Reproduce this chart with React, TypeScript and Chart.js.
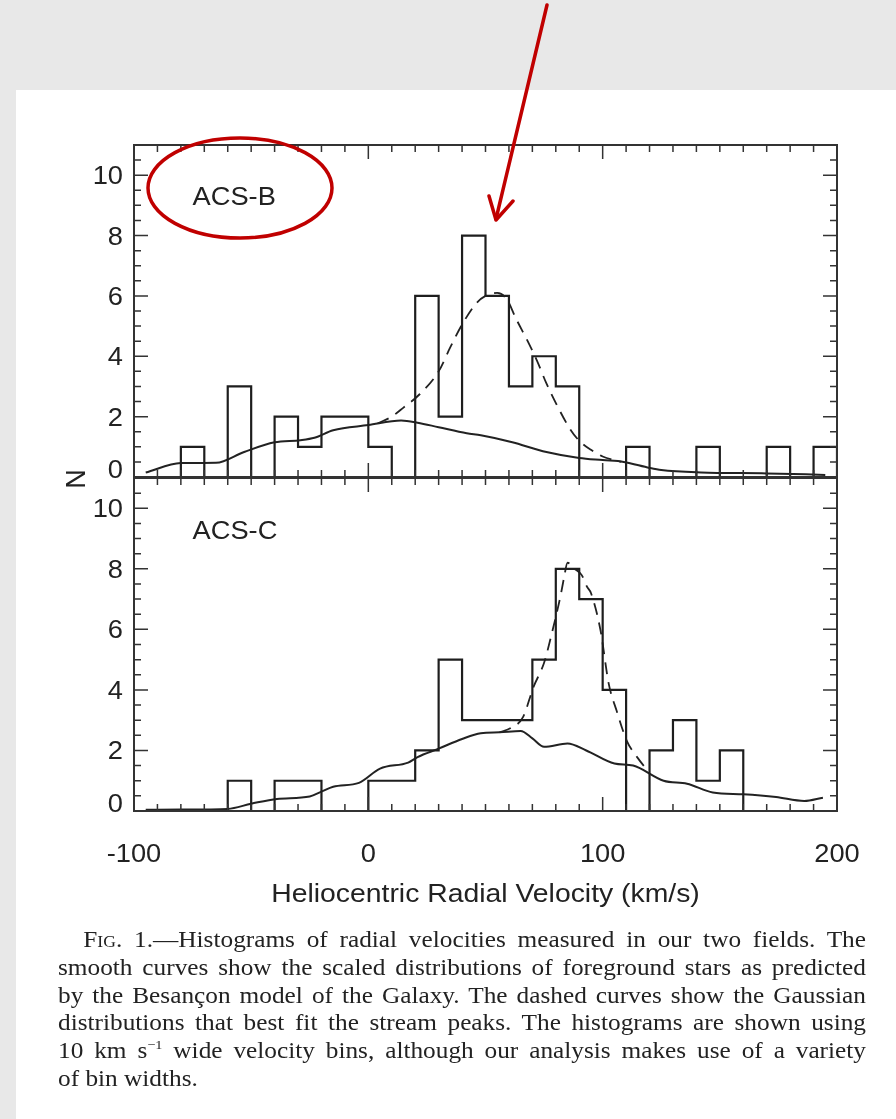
import React, { useEffect, useRef } from "react";
import { Chart, registerables } from "chart.js";

Chart.register(...registerables);

// ---------- data ----------
const binEdges = [-100, -90, -80, -70, -60, -50, -40, -30, -20, -10, 0, 10, 20, 30, 40, 50, 60, 70, 80, 90, 100, 110, 120, 130, 140, 150, 160, 170, 180, 190, 200];
const countsACSB = [0, 0, 1, 0, 3, 0, 2, 1, 2, 2, 1, 0, 6, 2, 8, 6, 3, 4, 3, 0, 0, 1, 0, 0, 1, 0, 0, 1, 0, 1];
const countsACSC = [0, 0, 0, 0, 1, 0, 1, 1, 0, 0, 1, 1, 2, 5, 3, 3, 3, 5, 8, 7, 4, 0, 2, 3, 1, 2, 0, 0, 0, 0];

const modelBVel = [-95, -80, -65, -53, -40, -29, -23, -15, 0, 14, 21, 30, 42, 48, 61, 76, 90, 100, 109, 120, 125, 142, 170, 195];
const modelBN = [0.15, 0.46, 0.47, 0.83, 1.15, 1.22, 1.3, 1.55, 1.72, 1.87, 1.8, 1.65, 1.45, 1.38, 1.16, 0.83, 0.63, 0.56, 0.5, 0.3, 0.23, 0.15, 0.12, 0.07];

const gaussBVel = [4, 10, 15, 22, 30, 35, 40, 46, 50, 55, 59, 63, 68, 72, 76, 81, 86, 90, 95, 100, 108];
const gaussBN = [1.78, 2.0, 2.3, 2.75, 3.5, 4.3, 5.05, 5.75, 6.0, 6.1, 5.9, 5.25, 4.5, 3.85, 3.1, 2.3, 1.6, 1.2, 0.9, 0.68, 0.5];

const modelCVel = [-95, -80, -60, -50, -39, -25, -20, -15, -4, 5, 17, 21, 30, 40, 48, 56, 65, 70, 75, 85, 93, 105, 113, 126, 136, 147, 160, 174, 186, 194];
const modelCN = [0.04, 0.05, 0.07, 0.24, 0.4, 0.48, 0.64, 0.8, 0.93, 1.4, 1.6, 1.78, 2.06, 2.38, 2.57, 2.6, 2.64, 2.4, 2.12, 2.23, 2.0, 1.57, 1.5, 1.0, 0.9, 0.61, 0.55, 0.46, 0.33, 0.44];

const gaussCVel = [56, 61, 66, 70.5, 75, 78.4, 82, 83.5, 85, 88, 91, 93.4, 95, 99, 102.6, 106, 110.4, 114.7, 119];
const gaussCN = [2.6, 2.75, 3.1, 4.1, 4.9, 5.9, 7.1, 7.7, 8.2, 8.0, 7.8, 7.4, 7.2, 6.0, 4.2, 3.3, 2.3, 1.78, 1.35];

const X_MIN = -100;
const X_MAX = 200;
const Y_MIN = 0;
const Y_MAX = 11;
const xTickValues = [-100, 0, 100, 200];
const xTickLabels = ["-100", "0", "100", "200"];
const yTickValues = [0, 2, 4, 6, 8, 10];
const yTickLabels = ["0", "2", "4", "6", "8", "10"];
const panelLabels = ["ACS-B", "ACS-C"];
const panelLabelPos = [-75, 9]; // data coords (velocity, N) of the panel label baseline
const xAxisTitle = "Heliocentric Radial Velocity (km/s)";
const yAxisTitle = "N";

// ---------- styling ----------
const W = 896;
const H = 1119;
const SANS = '"Liberation Sans", Arial, Helvetica, sans-serif';
const INK = "#222";
const ZERO_LABEL_LIFT = 8;

function drawText(ctx: any, text: string, x: number, y: number, align: string, size: number, sx = 1.09) {
  ctx.save();
  ctx.translate(x, y);
  ctx.scale(sx, 1);
  ctx.font = `${size}px ${SANS}`;
  ctx.textAlign = align;
  ctx.textBaseline = "alphabetic";
  ctx.fillText(text, 0, 0);
  ctx.restore();
}

function framePlugin(opts: { label: string; showX: boolean; showN: boolean }) {
  return {
    id: "idlFrame",
    afterDatasetsDraw(chart: any) {
      const { ctx, chartArea: a } = chart;
      const xs = chart.scales.x;
      const ys = chart.scales.y;
      ctx.save();
      ctx.strokeStyle = "#333";
      ctx.lineWidth = 1.5;
      ctx.beginPath();
      for (let i = 0; i <= 30; i++) {
        const v = X_MIN + i * 10;
        const px = xs.getPixelForValue(v);
        const len = v % 100 === 0 ? 14 : 7;
        ctx.moveTo(px, a.bottom);
        ctx.lineTo(px, a.bottom - len);
        ctx.moveTo(px, a.top);
        ctx.lineTo(px, a.top + len);
      }
      for (let i = 0; i < 22; i++) {
        const v = i * 0.5;
        const py = ys.getPixelForValue(v);
        const len = i % 4 === 0 ? 14 : 7;
        ctx.moveTo(a.left, py);
        ctx.lineTo(a.left + len, py);
        ctx.moveTo(a.right, py);
        ctx.lineTo(a.right - len, py);
      }
      ctx.stroke();
      ctx.lineWidth = 2;
      ctx.strokeRect(a.left, a.top, a.right - a.left, a.bottom - a.top);

      ctx.fillStyle = INK;
      yTickValues.forEach((v, i) => {
        const py = ys.getPixelForValue(v) - (v === 0 ? ZERO_LABEL_LIFT : 0);
        drawText(ctx, yTickLabels[i], a.left - 11, py + 9, "right", 25);
      });
      drawText(ctx, opts.label, xs.getPixelForValue(panelLabelPos[0]), ys.getPixelForValue(panelLabelPos[1]), "left", 25);

      if (opts.showX) {
        xTickValues.forEach((v, i) => {
          drawText(ctx, xTickLabels[i], xs.getPixelForValue(v), a.bottom + 51, "center", 25);
        });
        drawText(ctx, xAxisTitle, (a.left + a.right) / 2, a.bottom + 91, "center", 26.5, 1.07);
      }
      if (opts.showN) {
        ctx.save();
        ctx.translate(a.left - 56, a.bottom + 2);
        ctx.rotate(-Math.PI / 2);
        ctx.font = `27px ${SANS}`;
        ctx.textAlign = "center";
        ctx.textBaseline = "middle";
        ctx.fillText(yAxisTitle, 0, 0);
        ctx.restore();
      }
      ctx.restore();
    },
  };
}

function pts(xs: number[], ys: number[]) {
  return xs.map((x, i) => ({ x, y: ys[i] }));
}

function histPts(counts: number[]) {
  return binEdges.map((x, i) => ({ x, y: i < counts.length ? counts[i] : 0 }));
}

function makeConfig(counts: number[], mv: number[], mn: number[], gv: number[], gn: number[], padTop: number, padBottom: number, plugin: any) {
  return {
    type: "line",
    data: {
      datasets: [
        { data: histPts(counts), stepped: true, borderColor: "#1e1e1e", borderWidth: 2.2, pointRadius: 0, fill: false },
        { data: pts(mv, mn), borderColor: "#222", borderWidth: 2, pointRadius: 0, fill: false, cubicInterpolationMode: "monotone" },
        { data: pts(gv, gn), borderColor: "#222", borderWidth: 1.8, borderDash: [12, 8], pointRadius: 0, fill: false, cubicInterpolationMode: "monotone" },
      ],
    },
    options: {
      animation: false,
      responsive: false,
      devicePixelRatio: 1,
      events: [],
      layout: { padding: { left: 134, right: W - 837, top: padTop, bottom: padBottom } },
      scales: {
        x: { type: "linear", min: X_MIN, max: X_MAX, display: false },
        y: { type: "linear", min: Y_MIN, max: Y_MAX, display: false },
      },
      plugins: { legend: { display: false }, tooltip: { enabled: false }, title: { display: false } },
    },
    plugins: [plugin],
  };
}

export default function App() {
  const refB = useRef<HTMLCanvasElement>(null);
  const refC = useRef<HTMLCanvasElement>(null);

  useEffect(() => {
    const cB = new Chart(
      refB.current as any,
      makeConfig(countsACSB, modelBVel, modelBN, gaussBVel, gaussBN, 145, H - 477, framePlugin({ label: panelLabels[0], showX: false, showN: true })) as any
    );
    const cC = new Chart(
      refC.current as any,
      makeConfig(countsACSC, modelCVel, modelCN, gaussCVel, gaussCN, 478, H - 811, framePlugin({ label: panelLabels[1], showX: true, showN: false })) as any
    );
    return () => {
      cB.destroy();
      cC.destroy();
    };
  }, []);

  const canvasStyle: any = { position: "absolute", left: 0, top: 0, width: W, height: H };
  const lineStyle: any = { textAlign: "justify", textAlignLast: "justify" };
  const SX = 1.1;

  return (
    <div style={{ position: "absolute", left: 0, top: 0, width: W, height: H, background: "#e8e8e8", overflow: "hidden" }}>
      <div style={{ position: "absolute", left: 16, top: 90, right: 0, bottom: 0, background: "#ffffff" }} />
      <canvas ref={refB} width={W} height={H} style={canvasStyle} />
      <canvas ref={refC} width={W} height={H} style={canvasStyle} />
      <div
        style={{
          position: "absolute",
          left: 58,
          top: 926,
          width: 808 / SX,
          transform: `scaleX(${SX})`,
          transformOrigin: "left top",
          fontFamily: '"Liberation Serif", "Times New Roman", serif',
          fontSize: 23,
          lineHeight: "27.8px",
          color: "#222",
        }}
      >
        <div style={{ ...lineStyle, textIndent: 23 }}>
          <span style={{ fontVariant: "small-caps" }}>Fig.</span> 1.—Histograms of radial velocities measured in our two fields. The
        </div>
        <div style={lineStyle}>smooth curves show the scaled distributions of foreground stars as predicted</div>
        <div style={lineStyle}>by the Besançon model of the Galaxy. The dashed curves show the Gaussian</div>
        <div style={lineStyle}>distributions that best fit the stream peaks. The histograms are shown using</div>
        <div style={lineStyle}>
          10 km s<sup style={{ fontSize: 13, lineHeight: 0, verticalAlign: "9px" }}>−1</sup> wide velocity bins, although our analysis makes use of a variety
        </div>
        <div style={{ textAlign: "left" }}>of bin widths.</div>
      </div>
      <svg width={W} height={H} style={{ position: "absolute", left: 0, top: 0 }}>
        <ellipse cx={240} cy={188} rx={92} ry={50} fill="none" stroke="#c00000" strokeWidth={3.5} />
        <line x1={547} y1={5} x2={496} y2={219} stroke="#c00000" strokeWidth={3.5} strokeLinecap="round" />
        <polyline points="489,196 496,220 513,201" fill="none" stroke="#c00000" strokeWidth={3.5} strokeLinecap="round" strokeLinejoin="round" />
      </svg>
    </div>
  );
}
